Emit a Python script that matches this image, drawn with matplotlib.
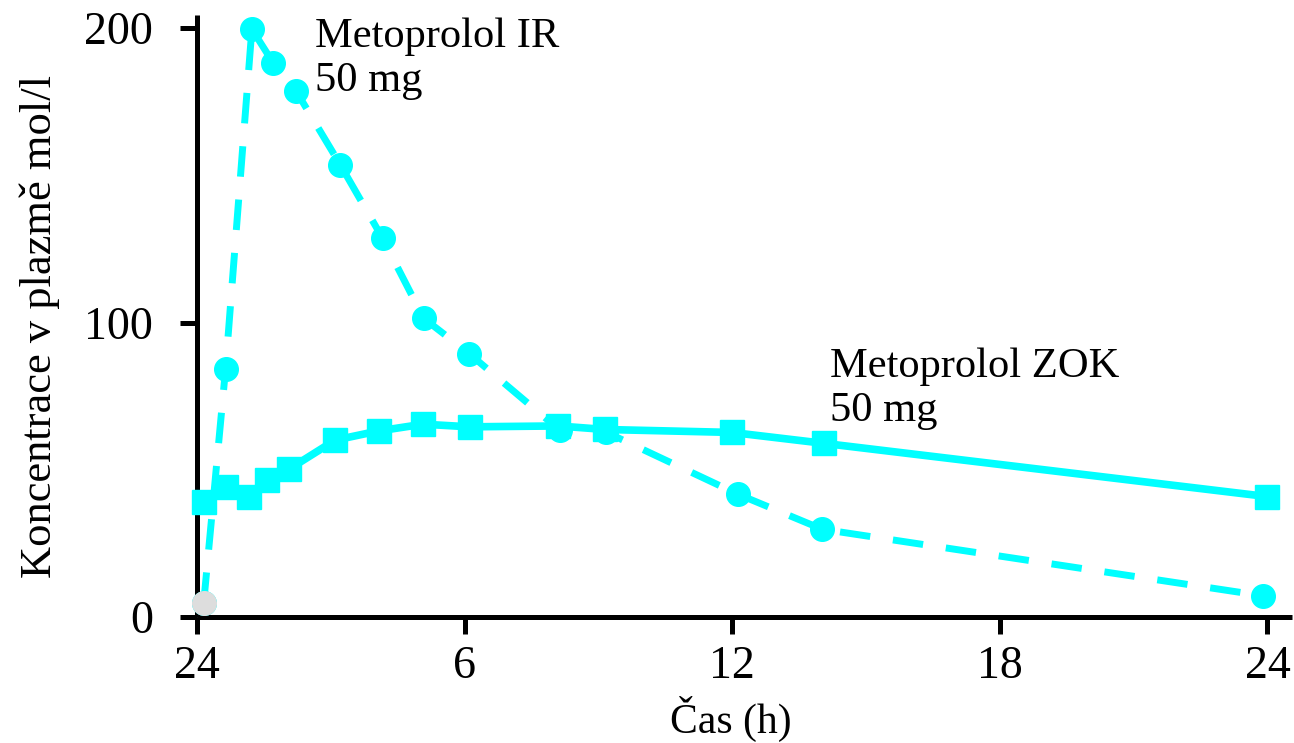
import numpy as np
import matplotlib.pyplot as plt

plt.rcParams['font.family'] = ['Liberation Serif', 'DejaVu Serif']

# Metoprolol IR 50 mg (dashed, circles)
t_ir = [0.15, 0.64, 1.23, 1.71, 2.22, 3.21, 4.16, 5.08, 6.10, 8.13, 9.17, 12.13, 14.02, 23.9]
c_ir = [4.8, 84.2, 199.7, 188.2, 178.7, 153.7, 128.7, 101.5, 89.5, 63.5, 62.8, 41.7, 29.8, 7.2]

# Metoprolol ZOK 50 mg (solid, squares)
t_zok = [0.15, 0.65, 1.17, 1.57, 2.07, 3.10, 4.07, 5.07, 6.11, 8.10, 9.15, 11.99, 14.05, 24.0]
c_zok = [39.0, 44.1, 40.7, 46.5, 50.3, 60.1, 63.2, 65.5, 64.6, 64.9, 63.7, 62.7, 59.0, 40.9]

xticks = [0, 6, 12, 18, 24]
xtick_labels = ['24', '6', '12', '18', '24']
yticks = [0, 100, 200]

cyan = '#00ffff'
grey = '#dddddd'

fig = plt.figure(figsize=(12.94, 7.43), dpi=100)
ax = fig.add_axes([197/1294, 1-617/743, (1292-197)/1294, (617-15)/743])

ax.plot(t_ir, c_ir, color=cyan, lw=5, linestyle=(0, (4.4, 3.3)),
        marker='o', ms=17, zorder=3, clip_on=False)
# first IR sample drawn in grey
ax.plot(t_ir[:1], c_ir[:1], color=grey, marker='o', ms=17, lw=0,
        zorder=4, clip_on=False)
ax.plot(t_zok, c_zok, color=cyan, lw=5.5, marker='s', ms=17,
        zorder=5, clip_on=False)

ax.set_xlim(0, 24.55)
ax.set_ylim(0, 204.5)
ax.set_xticks(xticks)
ax.set_xticklabels(xtick_labels)
ax.set_yticks(yticks)

for s in ['top', 'right']:
    ax.spines[s].set_visible(False)
for s in ['left', 'bottom']:
    ax.spines[s].set_linewidth(3.6)
    ax.spines[s].set_capstyle('butt')

ax.tick_params(axis='both', direction='out', length=12.5, width=3.6,
               labelsize=33, color='black')
ax.tick_params(axis='x', pad=8)
ax.tick_params(axis='y', pad=19)
ax.xaxis.get_major_ticks()[0].tick1line.set_color(grey)
ax.yaxis.get_major_ticks()[0].tick1line.set_color(grey)

ax.text(2.65, 203.7, 'Metoprolol IR\n50 mg', fontsize=30.6, va='top', ha='left')
ax.text(14.19, 91.7, 'Metoprolol ZOK\n50 mg', fontsize=30.6, va='top', ha='left')

fig.text(731/1294, 1-733/743, 'Čas (h)', fontsize=30, ha='center', va='baseline')
fig.text(40/1294, 1-327/743, 'Koncentrace v plazmě mol/l', fontsize=32,
         rotation=90, ha='center', va='center')

fig.savefig('out.png', dpi=100)
